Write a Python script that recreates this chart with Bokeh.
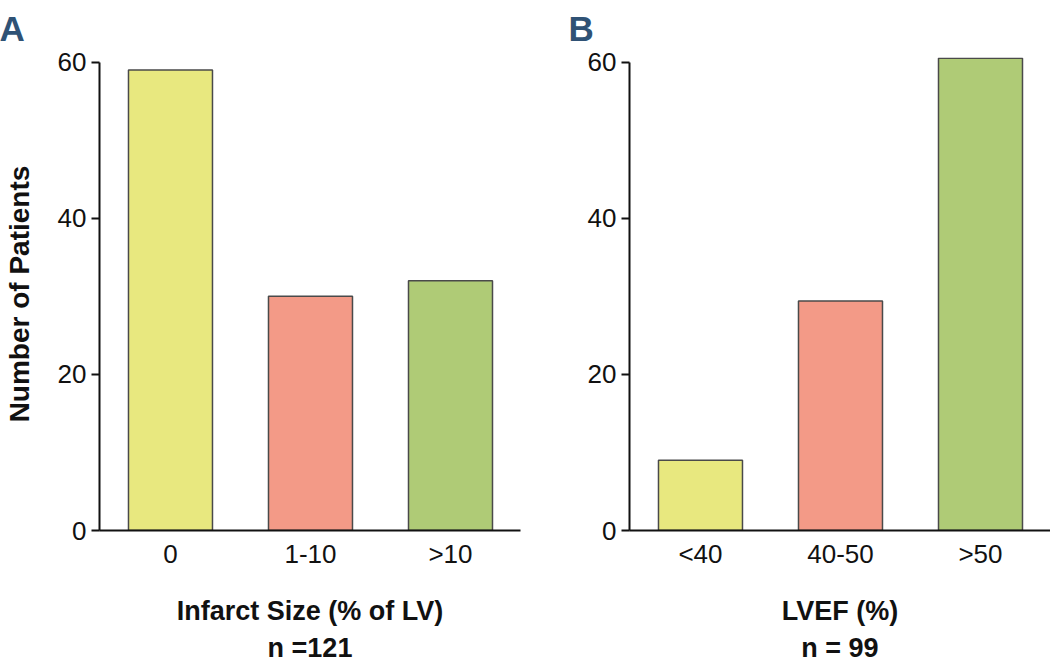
import numpy as np
from bokeh.plotting import figure
from bokeh.layouts import row
from bokeh.models import Range1d, FixedTicker
from bokeh.embed import file_html
from bokeh.resources import INLINE

# ---- data ----
infarct_cats = ["0", "1-10", ">10"]
infarct_counts = [59, 30, 32]
lvef_cats = ["<40", "40-50", ">50"]
lvef_counts = [9, 29.4, 60.5]
bar_colors = ["#e8e87f", "#f39a87", "#afcb76"]
y_ticks = [0, 20, 40, 60]

FONT = "Liberation Sans"
INK = "#111111"


def make_panel(cats, counts, letter, xlabel, width, x_start, x_end, left_border,
               right_border, title_offset, ylabel=None):
    x = np.arange(len(cats))
    p = figure(width=width, height=666, output_backend="svg", toolbar_location=None,
               x_range=Range1d(x_start, x_end), y_range=Range1d(0, 60.6),
               min_border_left=left_border, min_border_right=right_border,
               min_border_top=57, min_border_bottom=136)
    p.vbar(x=x, top=counts, width=0.6, fill_color=bar_colors,
           line_color="#4a4a4a", line_width=1.5)
    p.outline_line_color = None
    p.grid.visible = False
    p.background_fill_color = "white"
    p.border_fill_color = "white"

    # panel letter as title
    p.title.text = letter
    p.title.align = "left"
    p.title.vertical_align = "top"
    p.title.offset = title_offset
    p.title.standoff = 15
    p.title.text_font = FONT
    p.title.text_font_style = "bold"
    p.title.text_font_size = "35px"
    p.title.text_color = "#2f5275"

    # y axis
    ya = p.yaxis[0]
    ya.ticker = FixedTicker(ticks=y_ticks)
    ya.bounds = (0, 60)
    ya.axis_line_width = 2
    ya.axis_line_color = INK
    ya.major_tick_line_width = 2
    ya.major_tick_line_color = INK
    ya.major_tick_out = 8
    ya.major_tick_in = 0
    ya.minor_tick_line_color = None
    ya.major_label_text_font = FONT
    ya.major_label_text_font_size = "26px"
    ya.major_label_text_color = INK
    ya.major_label_standoff = 5
    if ylabel:
        ya.axis_label = ylabel
        ya.axis_label_text_font = FONT
        ya.axis_label_text_font_style = "bold"
        ya.axis_label_text_font_size = "28px"
        ya.axis_label_text_color = INK
        ya.axis_label_standoff = 20

    # x axis
    xa = p.xaxis[0]
    xa.ticker = FixedTicker(ticks=list(x))
    xa.major_label_overrides = {int(i): c for i, c in zip(x, cats)}
    xa.axis_line_width = 2
    xa.axis_line_color = INK
    xa.major_tick_line_color = None
    xa.minor_tick_line_color = None
    xa.major_label_text_font = FONT
    xa.major_label_text_font_size = "26px"
    xa.major_label_text_color = INK
    xa.major_label_standoff = 2
    xa.axis_label = xlabel
    xa.axis_label_text_font = FONT
    xa.axis_label_text_font_style = "bold"
    xa.axis_label_text_font_size = "27px"
    xa.axis_label_text_color = INK
    xa.axis_label_text_line_height = 1.25
    xa.axis_label_standoff = 24
    return p


pA = make_panel(infarct_cats, infarct_counts, "A", "Infarct Size (% of LV)\nn =121",
                width=530, x_start=-0.507, x_end=2.5, left_border=99, right_border=10,
                title_offset=-100, ylabel="Number of Patients")
pB = make_panel(lvef_cats, lvef_counts, "B", "LVEF (%)\nn = 99",
                width=520, x_start=-0.507, x_end=2.5, left_border=99, right_border=0,
                title_offset=-61)

layout = row(pA, pB)
open("out.html", "w").write(file_html(layout, INLINE))
